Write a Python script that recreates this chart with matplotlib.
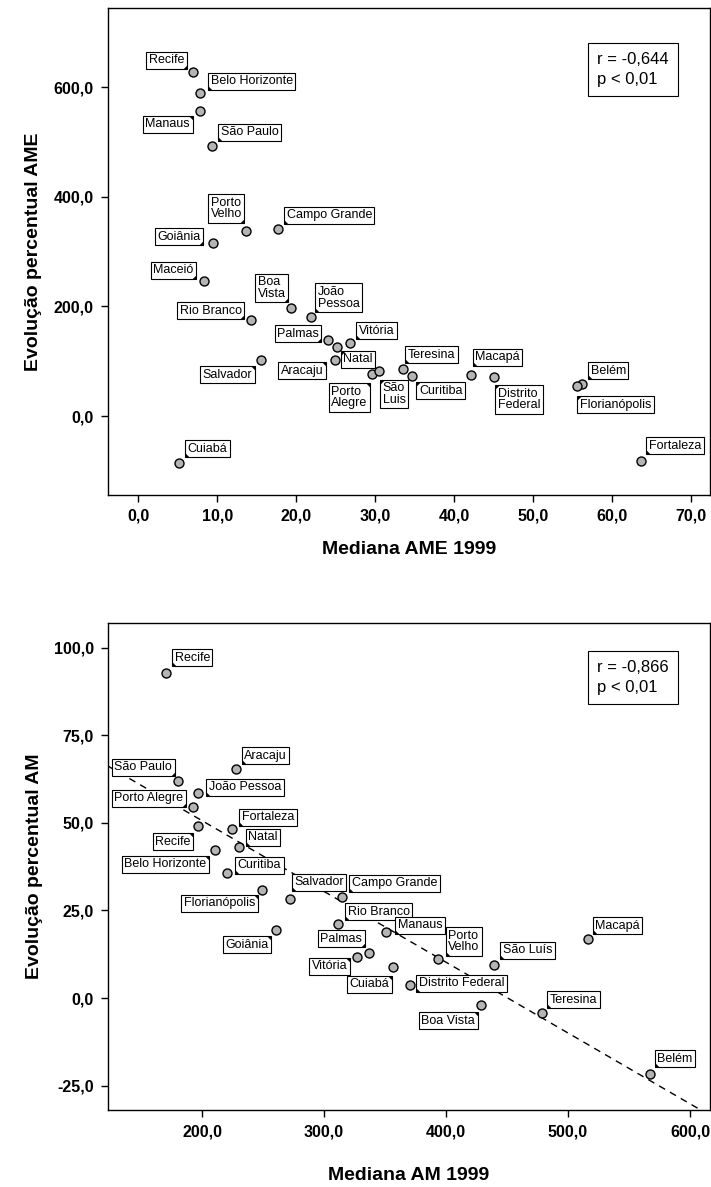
import numpy as np
import matplotlib
matplotlib.use('Agg')
import matplotlib.pyplot as plt
from matplotlib.transforms import offset_copy

plt.rcParams['font.family'] = ['Liberation Sans', 'DejaVu Sans']

# %% data - top panel (AME)
cidades_ame = ['Recife', 'Belo Horizonte', 'Manaus', 'São Paulo', 'Porto\nVelho',
               'Campo Grande', 'Goiânia', 'Maceió', 'Boa\nVista', 'Rio Branco',
               'João\nPessoa', 'Palmas', 'Vitória', 'Natal', 'Aracaju', 'Salvador',
               'Porto\nAlegre', 'São\nLuis', 'Teresina', 'Curitiba', 'Macapá',
               'Distrito\nFederal', 'Belém', 'Florianópolis', 'Fortaleza', 'Cuiabá']
mediana_ame = [6.85, 7.83, 7.74, 9.35, 13.67, 17.69, 9.44, 8.3, 19.34, 14.26,
               21.9, 24.07, 26.8, 25.1, 24.9, 15.5, 29.6, 30.5, 33.55, 34.7,
               42.1, 45.1, 56.2, 55.6, 63.7, 5.13]
evol_ame = [628.5, 590, 557, 493, 337.7, 342, 315, 247, 196.6, 175,
            180.7, 138.7, 133.3, 126.5, 102.2, 101.7, 76.7, 82.7, 85.8, 73,
            75.4, 70.6, 58.4, 54.8, -82, -86.3]
xticks_ame = [0, 10, 20, 30, 40, 50, 60, 70]
yticks_ame = [0, 200, 400, 600]
stats_ame = 'r = -0,644\np < 0,01'

# %% data - bottom panel (AM)
cidades_am = ['Recife', 'Aracaju', 'São Paulo', 'João Pessoa', 'Porto Alegre',
              'Fortaleza', 'Recife', 'Natal', 'Belo Horizonte', 'Curitiba',
              'Florianópolis', 'Salvador', 'Campo Grande', 'Goiânia', 'Rio Branco',
              'Manaus', 'Palmas', 'Vitória', 'Cuiabá', 'Distrito Federal',
              'Porto\nVelho', 'São Luís', 'Macapá', 'Boa Vista', 'Teresina', 'Belém']
mediana_am = [170.5, 227.6, 180.1, 197.0, 192.4, 224.8, 197.0, 230.3, 210.7, 220.5,
              248.9, 271.9, 315.0, 260.7, 311.7, 351.1, 336.6, 326.8, 356.3, 370.5,
              393.2, 439.6, 516.1, 428.4, 478.9, 567.2]
evol_am = [92.7, 65.3, 62.0, 58.6, 54.6, 48.3, 49.1, 43.2, 42.3, 35.8,
           30.9, 28.4, 28.9, 19.3, 21.1, 18.9, 12.8, 11.8, 9.0, 3.8,
           11.2, 9.5, 16.8, -2.0, -4.3, -21.7]
xticks_am = [200, 300, 400, 500, 600]
yticks_am = [-25, 0, 25, 50, 75, 100]
stats_am = 'r = -0,866\np < 0,01'

# label box placement: (dx, dy) in pixels from point to box corner, corner with the pointer
offs_ame = [(-6, 3, 'br'), (8, 3, 'bl'), (-7, -5, 'tr'), (6, 5, 'bl'), (-2, 8, 'br'),
            (6, 5, 'bl'), (-10, -2, 'br'), (-8, 2, 'br'), (-3, 6, 'br'), (-7, 1, 'br'),
            (4, 5, 'bl'), (-7, -2, 'br'), (6, 4, 'bl'), (4, -4, 'tl'), (-9, -2, 'tr'),
            (-6, -6, 'tr'), (-2, -9, 'tr'), (1, -9, 'tl'), (2, 6, 'bl'), (4, -6, 'tl'),
            (2, 9, 'bl'), (1, -8, 'tl'), (6, 5, 'bl'), (0, -10, 'tl'), (5, 7, 'bl'),
            (6, 6, 'bl')]
offs_am = [(6, 7, 'bl'), (6, 5, 'bl'), (-3, 5, 'br'), (8, -3, 'bl'), (-7, 0, 'br'),
           (7, 3, 'bl'), (-5, -7, 'tr'), (7, 1, 'bl'), (-6, -6, 'tr'), (8, -1, 'bl'),
           (-4, -5, 'tr'), (2, 8, 'bl'), (7, 5, 'bl'), (-5, -6, 'tr'), (7, 4, 'bl'),
           (9, -2, 'bl'), (-4, 6, 'br'), (-7, -1, 'tr'), (-1, -9, 'tr'), (6, -7, 'bl'),
           (8, 3, 'bl'), (6, 6, 'bl'), (5, 5, 'bl'), (-3, -7, 'tr'), (5, 5, 'bl'),
           (5, 7, 'bl')]


def fmt(v):
    return f'{v:.1f}'.replace('.', ',')


def label_points(fig, ax, xs, ys, names, offsets):
    pad = 2.5
    for x, y, name, (dx, dy, corner) in zip(xs, ys, names, offsets):
        sx = 1 if corner[1] == 'l' else -1
        sy = 1 if corner[0] == 'b' else -1
        ax.annotate(name, (x, y), xytext=(dx + sx * pad, dy + sy * pad),
                    textcoords='offset pixels',
                    ha='left' if sx > 0 else 'right',
                    va='bottom' if sy > 0 else 'top',
                    multialignment='left',
                    fontsize=9, linespacing=0.95, zorder=4,
                    bbox=dict(boxstyle='square,pad=0.2', fc='white', ec='black', lw=0.8))
        tr = offset_copy(ax.transData, fig=fig, x=dx, y=dy, units='dots')
        ax.plot([x], [y], marker=[(0, 0), (sx, 0), (0, sy)], ms=6, mew=0,
                color='black', transform=tr, zorder=5, clip_on=False)


def style_axes(ax, xticks, yticks, xlabel, ylabel, xpad):
    ax.set_xticks(xticks)
    ax.set_xticklabels([fmt(v) for v in xticks])
    ax.set_yticks(yticks)
    ax.set_yticklabels([fmt(v) for v in yticks])
    for lab in ax.get_xticklabels() + ax.get_yticklabels():
        lab.set_fontweight('bold')
        lab.set_fontsize(11.5)
    ax.tick_params(direction='out', length=5, width=1, pad=5)
    for s in ax.spines.values():
        s.set_linewidth(1.0)
    ax.set_xlabel(xlabel, fontsize=14, fontweight='bold', labelpad=xpad)
    ax.set_ylabel(ylabel, fontsize=14, fontweight='bold', labelpad=8)


fig = plt.figure(figsize=(7.11, 11.87), dpi=100)
W, H = 711, 1187

# %% top panel
ax1 = fig.add_axes([107.5 / W, 1 - 495 / H, (710 - 107.5) / W, (495 - 8.3) / H])
ax1.scatter(mediana_ame, evol_ame, s=42, c='#b4b4b4', edgecolors='black',
            linewidths=1, zorder=3)
label_points(fig, ax1, mediana_ame, evol_ame, cidades_ame, offs_ame)
ax1.set_xlim(-3.92, 72.4)
ax1.set_ylim(-144, 744)
style_axes(ax1, xticks_ame, yticks_ame, 'Mediana AME 1999', 'Evolução percentual AME', 12)
ax1.text(0.812, 0.91, stats_ame, transform=ax1.transAxes, ha='left', va='top',
         fontsize=12, linespacing=1.4,
         bbox=dict(boxstyle='square,pad=0.55', fc='white', ec='black', lw=0.8))

# %% bottom panel
ax2 = fig.add_axes([107.7 / W, 1 - 1110.3 / H, (710 - 107.7) / W, (1110.3 - 622.7) / H])
ax2.scatter(mediana_am, evol_am, s=42, c='#b4b4b4', edgecolors='black',
            linewidths=1, zorder=3)
label_points(fig, ax2, mediana_am, evol_am, cidades_am, offs_am)

# regression line (least squares on the plotted points)
slope, intercept = np.polyfit(mediana_am, evol_am, 1)
xl = np.array([122.7, 616.4])
ax2.plot(xl, intercept + slope * xl, color='black', lw=1, ls=(0, (5, 4)), zorder=2)
ax2.set_xlim(122.7, 616.4)
ax2.set_ylim(-32.0, 107.1)

style_axes(ax2, xticks_am, yticks_am, 'Mediana AM 1999', 'Evolução percentual AM', 20)
ax2.text(0.812, 0.924, stats_am, transform=ax2.transAxes, ha='left', va='top',
         fontsize=12, linespacing=1.4,
         bbox=dict(boxstyle='square,pad=0.55', fc='white', ec='black', lw=0.8))

fig.savefig('out.png', dpi=100)
